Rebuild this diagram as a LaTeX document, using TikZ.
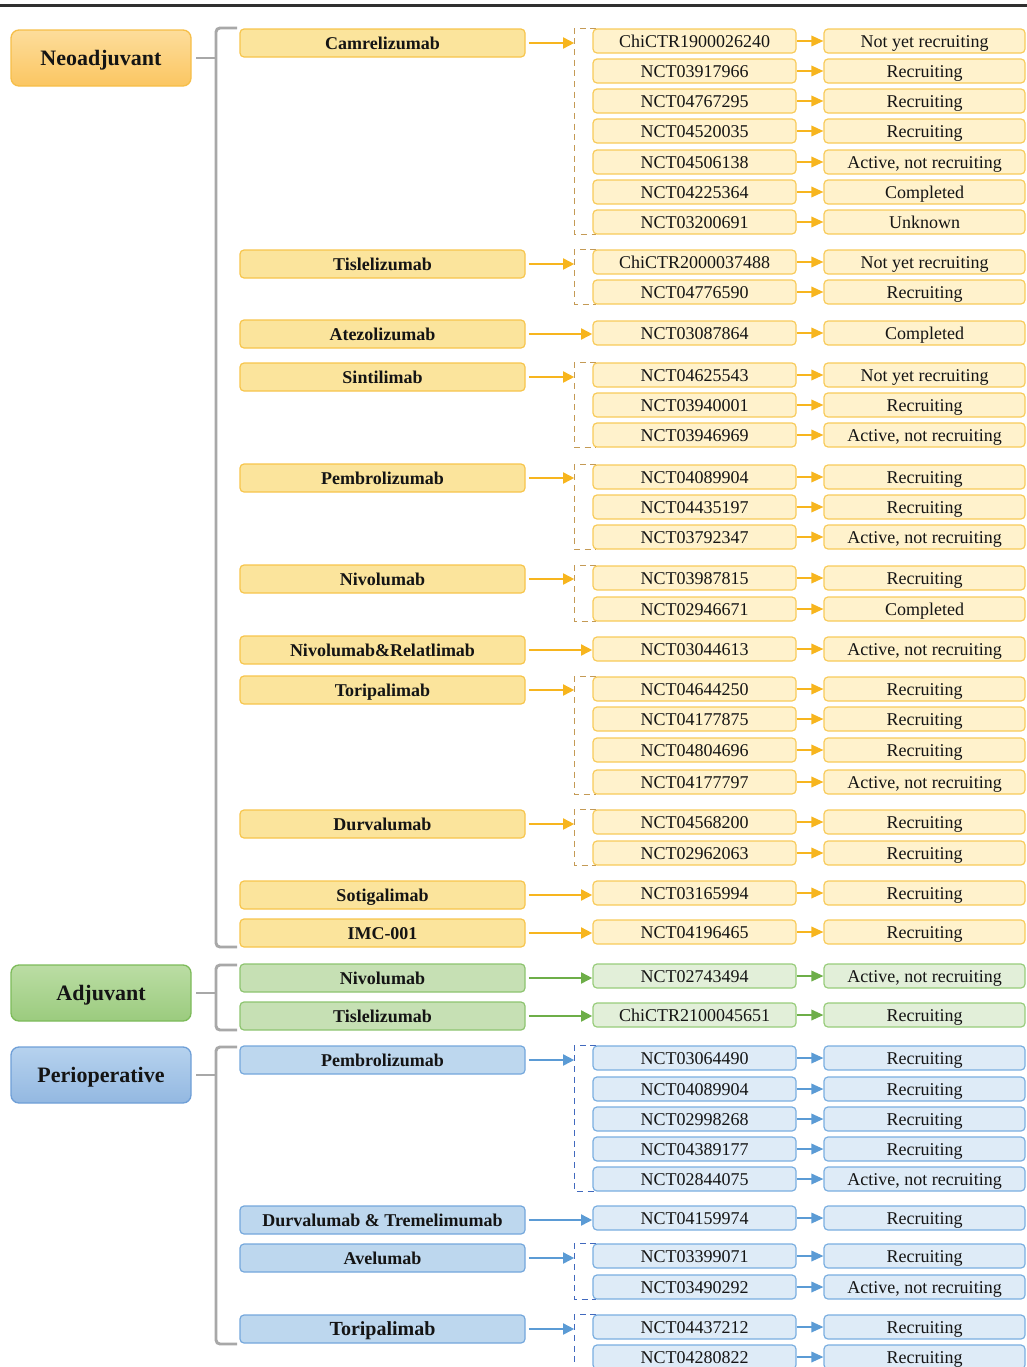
\documentclass[tikz,border=0pt]{standalone}
\usepackage{fontspec}
\setmainfont{Liberation Serif}
\usetikzlibrary{arrows.meta,backgrounds}
\definecolor{txt}{HTML}{141414}
\definecolor{topln}{HTML}{303030}
\definecolor{brgray}{HTML}{A8A8A8}
% orange
\definecolor{ocfa}{HTML}{FDDD9B}\definecolor{ocfb}{HTML}{FBC662}\definecolor{ocb}{HTML}{F6BE48}
\definecolor{odf}{HTML}{FBE49C}\definecolor{odb}{HTML}{F7C54C}
\definecolor{otf}{HTML}{FFF2CC}\definecolor{otb}{HTML}{F8CB5A}
\definecolor{oar}{HTML}{F7B51E}\definecolor{odash}{HTML}{C49A55}
% green
\definecolor{gcfa}{HTML}{BBDDA4}\definecolor{gcfb}{HTML}{9BCB7E}\definecolor{gcb}{HTML}{7DBB5A}
\definecolor{gdf}{HTML}{C6E0B4}\definecolor{gdb}{HTML}{8DC46F}
\definecolor{gtf}{HTML}{E2EFD9}\definecolor{gtb}{HTML}{98CC7B}
\definecolor{gar}{HTML}{6DAE48}
% blue
\definecolor{bcfa}{HTML}{B6D2EE}\definecolor{bcfb}{HTML}{93B8E1}\definecolor{bcb}{HTML}{6F9FD7}
\definecolor{bdf}{HTML}{BDD7EE}\definecolor{bdb}{HTML}{74A7DC}
\definecolor{btf}{HTML}{DEEBF7}\definecolor{btb}{HTML}{7AAEE0}
\definecolor{bar}{HTML}{5B9BD5}\definecolor{bdash}{HTML}{4169BE}
\tikzset{
  basebox/.style={rounded corners=3pt, line width=0.9pt, inner sep=0pt, align=center, text=txt},
  catbox/.style={basebox, rounded corners=6pt, line width=1pt, minimum width=135pt, minimum height=42pt,
    font=\fontsize{16.5}{19}\selectfont\bfseries, text height=11.5pt, text depth=0pt},
  drugbox/.style={basebox, minimum width=213.75pt, minimum height=21pt,
    font=\fontsize{13.5}{16}\selectfont\bfseries, text height=9.3pt, text depth=-0.4pt},
  trialbox/.style={basebox, minimum width=152.25pt, minimum height=18pt,
    font=\fontsize{13.5}{16}\selectfont, text height=9.3pt, text depth=-0.4pt},
  statbox/.style={trialbox, minimum width=150.75pt},
  darr/.style={line width=2.2pt, -{Triangle[length=8.5pt,width=8pt]}},
  tarr/.style={line width=1pt, -{Triangle[length=9pt,width=8pt]}},
  dbr/.style={line width=1.3pt, dash pattern=on 4.5pt off 3.5pt},
  gbr/.style={line width=2.2pt, draw=brgray, rounded corners=3pt},
}
\newcommand\mktrial[5]{%
  \node[trialbox, fill=#5tf, draw=#5tb] (#1) at (694.5,#2) {#3};
  \node[statbox, fill=#5tf, draw=#5tb] (#1s) at (924.5,#2) {#4};
  \draw[tarr, #5ar] (#1) -- (#1s);
}
\newcommand\mkdrug[4]{%
  \node[drugbox, fill=#4df, draw=#4db] (#1) at (382.5,#2) {#3};
}
\newcommand\mkdash[4]{% name of coordinate, first, last, colour
  \coordinate (#1) at ([xshift=-13.5pt]#2.north west);
  \begin{scope}[on background layer]
    \draw[dbr, #4] ([xshift=3pt]#2.north west) -- (#1) |- ([xshift=3pt]#3.south west);
  \end{scope}
}
\begin{document}
\begin{tikzpicture}[x=0.75pt, y=-0.75pt]
\useasboundingbox (0,0) rectangle (1027,1367);
\clip (0,0) rectangle (1027,1367);
\draw[topln, line width=2.2pt] (0,5.5) -- (1027,5.5);

% ---------- categories ----------
\node[catbox, top color=ocfa, bottom color=ocfb, draw=ocb] (neo) at (101,58) {Neoadjuvant};
\node[catbox, top color=gcfa, bottom color=gcfb, draw=gcb] (adj) at (101,993) {Adjuvant};
\node[catbox, top color=bcfa, bottom color=bcfb, draw=bcb] (peri) at (101,1075) {Perioperative};

% ---------- grey brackets ----------
\coordinate (neoT) at (237,28);  \coordinate (neoB) at (237,947);
\coordinate (adjT) at (237,965); \coordinate (adjB) at (237,1030);
\coordinate (perT) at (237,1047);\coordinate (perB) at (237,1344);
\draw[gbr] (neoT) -- (216,28) -- (216,947) -- (neoB);
\draw[gbr] ([xshift=3.5pt]neo.east) -- (216,58);
\draw[gbr] (adjT) -- (216,965) -- (216,1030) -- (adjB);
\draw[gbr] ([xshift=3.5pt]adj.east) -- (216,993);
\draw[gbr] (perT) -- (216,1047) -- (216,1344) -- (perB);
\draw[gbr] ([xshift=3.5pt]peri.east) -- (216,1075);

% ---------- Neoadjuvant ----------
\mkdrug{ca}{43}{Camrelizumab}{o}
\mktrial{ca1}{41}{ChiCTR1900026240}{Not yet recruiting}{o}
\mktrial{ca2}{71}{NCT03917966}{Recruiting}{o}
\mktrial{ca3}{101}{NCT04767295}{Recruiting}{o}
\mktrial{ca4}{131}{NCT04520035}{Recruiting}{o}
\mktrial{ca5}{162}{NCT04506138}{Active, not recruiting}{o}
\mktrial{ca6}{192}{NCT04225364}{Completed}{o}
\mktrial{ca7}{222}{NCT03200691}{Unknown}{o}
\mkdash{caB}{ca1}{ca7}{odash}
\draw[darr, oar] ([xshift=2.5pt]ca.east) -- (ca.east -| caB);

\mkdrug{ti}{264}{Tislelizumab}{o}
\mktrial{ti1}{262}{ChiCTR2000037488}{Not yet recruiting}{o}
\mktrial{ti2}{292}{NCT04776590}{Recruiting}{o}
\mkdash{tiB}{ti1}{ti2}{odash}
\draw[darr, oar] ([xshift=2.5pt]ti.east) -- (ti.east -| tiB);

\mkdrug{at}{334}{Atezolizumab}{o}
\mktrial{at1}{333}{NCT03087864}{Completed}{o}
\draw[darr, oar] ([xshift=2.5pt]at.east) -- (at.east -| at1.west);

\mkdrug{si}{377}{Sintilimab}{o}
\mktrial{si1}{375}{NCT04625543}{Not yet recruiting}{o}
\mktrial{si2}{405}{NCT03940001}{Recruiting}{o}
\mktrial{si3}{435}{NCT03946969}{Active, not recruiting}{o}
\mkdash{siB}{si1}{si3}{odash}
\draw[darr, oar] ([xshift=2.5pt]si.east) -- (si.east -| siB);

\mkdrug{pe}{478}{Pembrolizumab}{o}
\mktrial{pe1}{477}{NCT04089904}{Recruiting}{o}
\mktrial{pe2}{507}{NCT04435197}{Recruiting}{o}
\mktrial{pe3}{537}{NCT03792347}{Active, not recruiting}{o}
\mkdash{peB}{pe1}{pe3}{odash}
\draw[darr, oar] ([xshift=2.5pt]pe.east) -- (pe.east -| peB);

\mkdrug{ni}{579}{Nivolumab}{o}
\mktrial{ni1}{578}{NCT03987815}{Recruiting}{o}
\mktrial{ni2}{609}{NCT02946671}{Completed}{o}
\mkdash{niB}{ni1}{ni2}{odash}
\draw[darr, oar] ([xshift=2.5pt]ni.east) -- (ni.east -| niB);

\mkdrug{nr}{650}{Nivolumab\&Relatlimab}{o}
\mktrial{nr1}{649}{NCT03044613}{Active, not recruiting}{o}
\draw[darr, oar] ([xshift=2.5pt]nr.east) -- (nr.east -| nr1.west);

\mkdrug{to}{690}{Toripalimab}{o}
\mktrial{to1}{689}{NCT04644250}{Recruiting}{o}
\mktrial{to2}{719}{NCT04177875}{Recruiting}{o}
\mktrial{to3}{750}{NCT04804696}{Recruiting}{o}
\mktrial{to4}{782}{NCT04177797}{Active, not recruiting}{o}
\mkdash{toB}{to1}{to4}{odash}
\draw[darr, oar] ([xshift=2.5pt]to.east) -- (to.east -| toB);

\mkdrug{du}{824}{Durvalumab}{o}
\mktrial{du1}{822}{NCT04568200}{Recruiting}{o}
\mktrial{du2}{853}{NCT02962063}{Recruiting}{o}
\mkdash{duB}{du1}{du2}{odash}
\draw[darr, oar] ([xshift=2.5pt]du.east) -- (du.east -| duB);

\mkdrug{so}{895}{Sotigalimab}{o}
\mktrial{so1}{893}{NCT03165994}{Recruiting}{o}
\draw[darr, oar] ([xshift=2.5pt]so.east) -- (so.east -| so1.west);

\mkdrug{im}{933}{IMC-001}{o}
\mktrial{im1}{932}{NCT04196465}{Recruiting}{o}
\draw[darr, oar] ([xshift=2.5pt]im.east) -- (im.east -| im1.west);

% ---------- Adjuvant ----------
\mkdrug{an}{978}{Nivolumab}{g}
\mktrial{an1}{976}{NCT02743494}{Active, not recruiting}{g}
\draw[darr, gar] ([xshift=2.5pt]an.east) -- (an.east -| an1.west);

\mkdrug{aj}{1016}{Tislelizumab}{g}
\mktrial{aj1}{1015}{ChiCTR2100045651}{Recruiting}{g}
\draw[darr, gar] ([xshift=2.5pt]aj.east) -- (aj.east -| aj1.west);

% ---------- Perioperative ----------
\mkdrug{pp}{1060}{Pembrolizumab}{b}
\mktrial{pp1}{1058}{NCT03064490}{Recruiting}{b}
\mktrial{pp2}{1089}{NCT04089904}{Recruiting}{b}
\mktrial{pp3}{1119}{NCT02998268}{Recruiting}{b}
\mktrial{pp4}{1149}{NCT04389177}{Recruiting}{b}
\mktrial{pp5}{1179}{NCT02844075}{Active, not recruiting}{b}
\mkdash{ppB}{pp1}{pp5}{bdash}
\draw[darr, bar] ([xshift=2.5pt]pp.east) -- (pp.east -| ppB);

\mkdrug{dt}{1220}{Durvalumab \& Tremelimumab}{b}
\mktrial{dt1}{1218}{NCT04159974}{Recruiting}{b}
\draw[darr, bar] ([xshift=2.5pt]dt.east) -- (dt.east -| dt1.west);

\mkdrug{av}{1258}{Avelumab}{b}
\mktrial{av1}{1256}{NCT03399071}{Recruiting}{b}
\mktrial{av2}{1287}{NCT03490292}{Active, not recruiting}{b}
\mkdash{avB}{av1}{av2}{bdash}
\draw[darr, bar] ([xshift=2.5pt]av.east) -- (av.east -| avB);

\node[drugbox, fill=bdf, draw=bdb, font=\fontsize{15}{18}\selectfont\bfseries] (tp) at (382.5,1329) {Toripalimab};
\mktrial{tp1}{1327}{NCT04437212}{Recruiting}{b}
\mktrial{tp2}{1357}{NCT04280822}{Recruiting}{b}
\mkdash{tpB}{tp1}{tp2}{bdash}
\draw[darr, bar] ([xshift=2.5pt]tp.east) -- (tp.east -| tpB);
\end{tikzpicture}
\end{document}
